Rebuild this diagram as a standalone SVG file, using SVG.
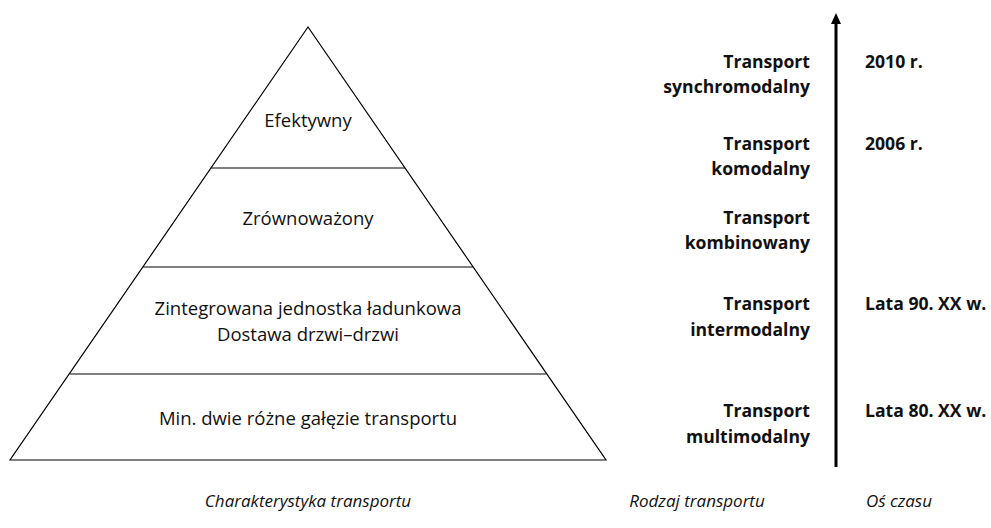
<svg xmlns="http://www.w3.org/2000/svg" width="991" height="528" viewBox="0 0 991 528">
<style>
text{font-family:"Open Sans","Liberation Sans",sans-serif;fill:#111;}
.c{font-size:18.5px;text-anchor:middle;}
.b{font-size:17.6px;font-weight:bold;text-anchor:end;}
.d{font-size:17.6px;font-weight:bold;text-anchor:start;}
.i{font-size:17px;font-style:italic;text-anchor:middle;}
.ln{stroke:#000;stroke-width:1.2;fill:none;}
</style>
<defs>
<marker id="ah" markerWidth="12" markerHeight="12" refX="2" refY="5" orient="auto" markerUnits="userSpaceOnUse">
<path d="M0,0 L11,5 L0,10 Z" fill="#000"/>
</marker>
</defs>
<g id="pyramid">
<path class="ln" d="M308,27 L10,460 L606,460 Z"/>
<line class="ln" x1="211" y1="168" x2="405" y2="168"/>
<line class="ln" x1="143" y1="267" x2="473" y2="267"/>
<line class="ln" x1="70" y1="374" x2="546" y2="374"/>
</g>
<g id="level1"><text class="c" x="308" y="127">Efektywny</text></g>
<g id="level2"><text class="c" x="308" y="225">Zrównoważony</text></g>
<g id="level3"><text class="c" x="308" y="315">Zintegrowana jednostka ładunkowa</text><text class="c" x="308" y="341">Dostawa drzwi–drzwi</text></g>
<g id="level4"><text class="c" x="308" y="425">Min. dwie różne gałęzie transportu</text></g>
<g id="connectors">
<line x1="836" y1="467" x2="836" y2="22" stroke="#000" stroke-width="3" marker-end="url(#ah)"/>
</g>
<g id="t1"><text class="b" x="810" y="68">Transport</text><text class="b" x="810" y="93">synchromodalny</text></g>
<g id="t2"><text class="b" x="810" y="150">Transport</text><text class="b" x="810" y="175">komodalny</text></g>
<g id="t3"><text class="b" x="810" y="224">Transport</text><text class="b" x="810" y="249">kombinowany</text></g>
<g id="t4"><text class="b" x="810" y="310">Transport</text><text class="b" x="810" y="336">intermodalny</text></g>
<g id="t5"><text class="b" x="810" y="417">Transport</text><text class="b" x="810" y="443">multimodalny</text></g>
<g id="d1"><text class="d" x="865" y="68">2010 r.</text></g>
<g id="d2"><text class="d" x="865" y="150">2006 r.</text></g>
<g id="d3"><text class="d" x="865" y="310">Lata 90. XX w.</text></g>
<g id="d4"><text class="d" x="865" y="417">Lata 80. XX w.</text></g>
<g id="labels">
<text class="i" x="308" y="507">Charakterystyka transportu</text>
<text class="i" x="697" y="507">Rodzaj transportu</text>
<text class="i" x="899" y="507">Oś czasu</text>
</g>
</svg>
